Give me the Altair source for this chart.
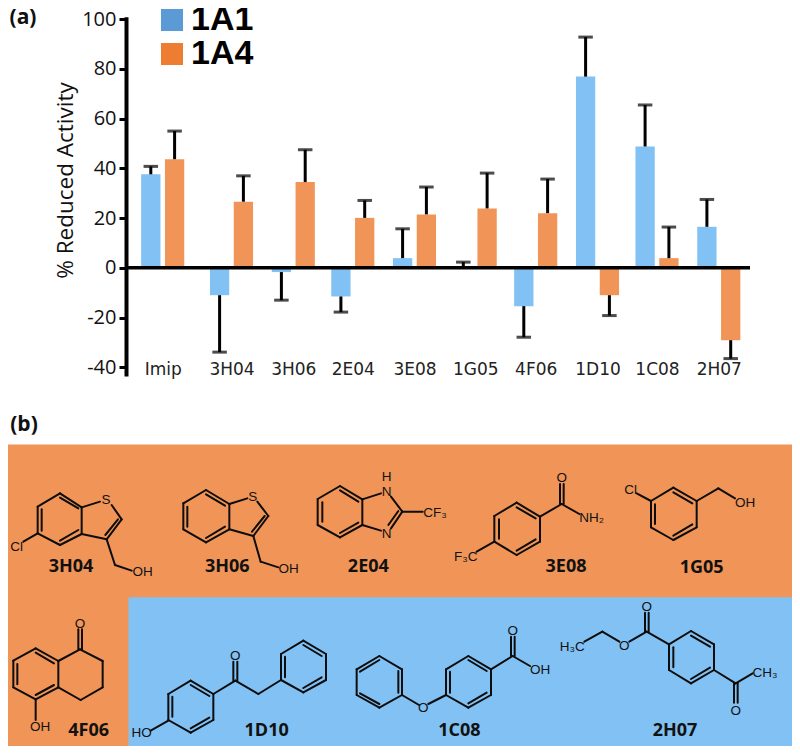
import altair as alt
import pandas as pd

# ---- panel (a) values -------------------------------------------------------
COMPOUNDS = ["Imip", "3H04", "3H06", "2E04", "3E08", "1G05", "4F06", "1D10", "1C08", "2H07"]
A1_MEAN = [37.6, -11.0, -1.7, -11.5, 3.9, 0.3, -15.4, 76.9, 48.8, 16.5]
A1_CAP = [40.8, -33.9, -13.0, -17.8, 15.7, 2.3, -27.9, 92.8, 65.5, 27.5]
A4_MEAN = [43.7, 26.6, 34.5, 20.1, 21.5, 23.9, 22.0, -11.0, 3.9, -29.1]
A4_CAP = [55.0, 37.0, 47.5, 27.1, 32.5, 38.1, 35.7, -19.2, 16.4, -36.5]
SERIES = ["1A1", "1A4"]

def ring(v):
    return [v[i] + v[(i + 1) % len(v)] for i in range(len(v))]

MOL_3H04 = ring([(180, 250), (245, 292), (245, 372), (180, 405), (113, 370), (113, 290)]) + [
    (125, 298, 125, 362), (180, 263, 235, 295), (180, 392, 235, 360),
    (245, 292, 300, 275), (335, 285, 365, 328), (365, 328, 320, 388), (354, 328, 316, 375),
    (320, 388, 245, 372), (320, 388, 345, 465), (345, 465, 395, 482), (113, 370, 70, 395)]
MOL_3H06 = ring([(618, 240), (688, 282), (688, 358), (618, 397), (550, 358), (550, 280)]) + [
    (562, 290, 562, 350), (618, 253, 675, 287), (618, 384, 675, 350),
    (688, 282, 742, 265), (772, 275, 805, 318), (805, 318, 760, 378), (794, 318, 756, 365),
    (760, 378, 688, 358), (760, 378, 782, 455), (782, 455, 835, 472)]
MOL_2E04 = ring([(120, 138), (187, 178), (187, 255), (120, 292), (53, 255), (53, 177)]) + [
    (67, 187, 67, 245), (120, 151, 175, 185), (120, 279, 175, 248),
    (187, 178, 243, 160), (273, 170, 307, 215), (307, 215, 273, 265), (295, 213, 265, 255),
    (187, 255, 243, 272), (307, 215, 368, 215)]
MOL_3E08 = ring([(650, 188), (720, 230), (720, 305), (650, 345), (583, 305), (583, 228)]) + [
    (597, 238, 597, 296), (650, 202, 707, 235), (650, 332, 707, 298),
    (720, 230, 785, 192), (780, 192, 780, 132), (791, 192, 791, 132),
    (785, 192, 838, 222), (583, 305, 530, 335)]
MOL_1G05 = ring([(250, 143), (320, 183), (320, 262), (250, 300), (183, 262), (183, 183)]) + [
    (195, 193, 195, 252), (250, 157, 307, 190), (250, 287, 307, 253),
    (183, 183, 140, 160), (320, 183, 385, 145), (385, 145, 435, 175)]
MOL_4F06 = ring([(107, 175), (175, 213), (175, 292), (107, 328), (40, 292), (40, 212)]) + [
    (52, 222, 52, 283), (107, 188, 162, 220), (107, 315, 162, 285),
    (175, 213, 240, 178), (240, 178, 308, 213), (308, 213, 308, 292), (308, 292, 242, 330),
    (242, 330, 175, 292), (235, 178, 235, 118), (246, 178, 246, 118), (107, 328, 107, 390)]
MOL_1D10 = ring([(572, 272), (640, 312), (640, 390), (572, 428), (505, 390), (505, 312)]) + ring(
    [(910, 152), (978, 192), (978, 270), (910, 307), (843, 270), (843, 192)]) + [
    (517, 320, 517, 380), (572, 285, 628, 318), (572, 415, 628, 383),
    (855, 200, 855, 262), (910, 165, 965, 198), (910, 294, 965, 262),
    (505, 392, 452, 422), (640, 312, 706, 272), (700, 272, 700, 215), (712, 272, 712, 215),
    (706, 272, 775, 312), (775, 312, 843, 270)]
MOL_1C08 = ring([(118, 198), (186, 238), (186, 315), (118, 353), (50, 315), (50, 238)]) + ring(
    [(385, 198), (453, 238), (453, 315), (385, 353), (318, 315), (318, 238)]) + [
    (60, 245, 118, 210), (175, 243, 175, 308), (60, 310, 118, 342),
    (330, 245, 330, 308), (385, 210, 440, 243), (385, 340, 440, 308),
    (186, 315, 237, 345), (265, 342, 318, 315), (453, 238, 518, 198),
    (513, 198, 513, 140), (524, 198, 524, 140), (518, 198, 570, 228)]
MOL_2H07 = ring([(1053, 123), (1122, 163), (1122, 240), (1053, 280), (987, 240), (987, 163)]) + [
    (1000, 172, 1000, 232), (1053, 137, 1110, 170), (1053, 267, 1110, 233),
    (987, 163, 920, 125), (915, 125, 915, 68), (926, 125, 926, 68), (920, 125, 868, 155),
    (838, 155, 787, 125), (787, 125, 733, 155), (1122, 240, 1187, 280), (1187, 280, 1238, 250),
    (1182, 280, 1182, 338), (1193, 280, 1193, 338)]

CROP_A = (0, 410)
CROP_B = (300, 440)
CROP_C = (0, 590)
CROP_D = (340, 590)
CROP_E = (590, 440)
MOLECULES = [(CROP_A, MOL_3H04), (CROP_A, MOL_3H06), (CROP_B, MOL_2E04), (CROP_B, MOL_3E08),
             (CROP_E, MOL_1G05), (CROP_C, MOL_4F06), (CROP_C, MOL_1D10), (CROP_D, MOL_1C08), (CROP_D, MOL_2H07)]

ATOMS = [
    (CROP_A, 318, 270, "S"), (CROP_A, 50, 410, "Cl"), (CROP_A, 428, 487, "OH"),
    (CROP_A, 758, 260, "S"), (CROP_A, 866, 477, "OH"),
    (CROP_B, 260, 155, "N"), (CROP_B, 260, 112, "H"), (CROP_B, 260, 281, "N"), (CROP_B, 405, 220, "CF₃"),
    (CROP_B, 785, 115, "O"), (CROP_B, 875, 235, "NH₂"), (CROP_B, 497, 350, "F₃C"),
    (CROP_E, 122, 150, "Cl"), (CROP_E, 465, 188, "OH"),
    (CROP_C, 240, 102, "O"), (CROP_C, 120, 410, "OH"),
    (CROP_C, 425, 430, "HO"), (CROP_C, 706, 198, "O"),
    (CROP_D, 250, 355, "O"), (CROP_D, 518, 124, "O"), (CROP_D, 600, 240, "OH"),
    (CROP_D, 920, 50, "O"), (CROP_D, 853, 168, "O"), (CROP_D, 697, 170, "H₃C"),
    (CROP_D, 1275, 250, "CH₃"), (CROP_D, 1187, 362, "O"),
]
NAMES = [
    (CROP_A, 213, 472, "3H04"), (CROP_A, 682, 472, "3H06"),
    (CROP_B, 205, 382, "2E04"), (CROP_B, 798, 382, "3E08"), (CROP_E, 335, 383, "1G05"),
    (CROP_C, 266, 423, "4F06"), (CROP_C, 800, 423, "1D10"),
    (CROP_D, 358, 423, "1C08"), (CROP_D, 1005, 423, "2H07"),
]
PANEL_TAGS = [(23, 18, "(a)"), (24, 425, "(b)")]
BACKGROUNDS = [(5, 795, 444.5, 749, "#F09557"), (128.5, 795, 597.3, 749, "#82C1F3")]

# ---- frames -------------------------------------------------------------------
W, H = 784, 738
BAR = "#82C1F3"
ORANGE = "#F09557"
LEGEND_COLORS = ["#5B9BD5", "#ED7D31"]
FONT = "Open Sans"

slots = list(range(len(COMPOUNDS)))
bars = pd.DataFrame({"slot": slots, "a1": A1_MEAN, "a1cap": A1_CAP, "a4": A4_MEAN, "a4cap": A4_CAP})

label_expr = "[" + ",".join(f"'{c}'" for c in COMPOUNDS) + "][datum.value]"
group_centres = [154.7, 223.5, 285.3, 344.8, 406.5, 467.2, 527.7, 589.5, 649.0, 710.8]
Y_SCALE = alt.Scale(domain=[-43.5, 101], range=[368, 8.7], nice=False, zero=False)
Y_AXIS = alt.Axis(values=list(range(-40, 101, 20)), labelExpr="toString(datum.value)", grid=False,
                  title="% Reduced Activity", orient="left", offset=-118,
                  domainColor="#000", domainWidth=4, tickColor="#000", tickWidth=3, tickSize=7,
                  labelFont=FONT, labelFontSize=20, labelColor="#111", labelPadding=3,
                  titleFont=FONT, titleFontSize=22.5, titleFontWeight="normal", titleColor="#111",
                  titleX=-49, titleY=172, titleAngle=-90)
x_a = alt.X("slot:Q", scale=alt.Scale(domain=slots, range=group_centres, padding=0),
            axis=alt.Axis(values=slots, labelExpr=label_expr, domain=False, ticks=False, grid=False,
                          title=None, orient="bottom", offset=-(H - 361), labelFont="DejaVu Sans",
                          labelFontSize=17, labelColor="#222", labelPadding=0, labelOverlap=False,
                          labelBaseline="middle", labelFlush=False))
y_a = alt.Y("v:Q", scale=Y_SCALE, axis=Y_AXIS)

OFFSET = 11.9
def series_layers(mean, cap, colour, dx):
    d = bars.rename(columns={mean: "v", cap: "c"})
    base = alt.Chart(d)
    return [
        base.mark_bar(size=19.3, xOffset=dx, color=colour).encode(x=x_a, y=y_a, y2=alt.datum(0)),
        base.mark_rule(xOffset=dx, color="#000", strokeWidth=3).encode(x=x_a, y=y_a, y2="c:Q"),
        base.mark_tick(xOffset=dx, color="#000", thickness=3, size=14.5, orient="horizontal").encode(
            x=x_a, y=alt.Y("c:Q", scale=Y_SCALE, axis=Y_AXIS)),
    ]

zero_line = alt.Chart(pd.DataFrame({"slot": [0], "v": [0]})).mark_rule(color="#000", strokeWidth=3.5).encode(
    y=y_a, x=alt.value(118), x2=alt.value(742))

legend_layer = alt.Chart(pd.DataFrame({"series": SERIES})).mark_square(size=0, opacity=1).encode(
    color=alt.Color("series:N", scale=alt.Scale(domain=SERIES, range=LEGEND_COLORS),
                    legend=alt.Legend(orient="none", legendX=147, legendY=-5, title=None, symbolType="square",
                                      symbolSize=484, symbolStrokeWidth=0, labelFont="Liberation Sans",
                                      labelFontSize=34, labelFontWeight="bold", labelColor="#000",
                                      labelOffset=2, rowPadding=0)))

panel_a = alt.layer(*series_layers("a1", "a1cap", BAR, -OFFSET), *series_layers("a4", "a4cap", ORANGE, OFFSET),
                    zero_line, legend_layer)

# ---- panel (b) --------------------------------------------------------------------
px = alt.Scale(domain=[0, 800], range=[-8, 792], nice=False, zero=False)
py = alt.Scale(domain=[0, 754], range=[-8, 746], nice=False, zero=False)
X = alt.X("x:Q", scale=px, axis=None)
Y = alt.Y("y:Q", scale=py, axis=None)

def to_ref(c, x, y):
    return c[0] + x / 3, c[1] + y / 3

seg_rows = []
for crop, segs in MOLECULES:
    for a, b, c, d in segs:
        x0, y0 = to_ref(crop, a, b)
        x1, y1 = to_ref(crop, c, d)
        seg_rows.append({"x": x0, "y": y0, "x2": x1, "y2": y1})
atom_rows = [dict(zip("xy", to_ref(c, a, b)), t=t) for c, a, b, t in ATOMS]
name_rows = [dict(zip("xy", to_ref(c, a, b)), t=t) for c, a, b, t in NAMES]
tag_rows = [{"x": a, "y": b, "t": t} for a, b, t in PANEL_TAGS]
bg_rows = [{"x": a, "x2": b, "y": c, "y2": d, "c": e} for a, b, c, d, e in BACKGROUNDS]

bg = alt.Chart(pd.DataFrame(bg_rows)).mark_rect().encode(
    x=X, x2="x2:Q", y=Y, y2="y2:Q",
    color=alt.Color("c:N", scale=None, legend=None))
bonds = alt.Chart(pd.DataFrame(seg_rows)).mark_rule(color="#0d0d0d", strokeWidth=2, strokeCap="round").encode(
    x=X, x2="x2:Q", y=Y, y2="y2:Q")
atoms = alt.Chart(pd.DataFrame(atom_rows)).mark_text(font="Liberation Sans", fontSize=13.5, color="#111").encode(
    x=X, y=Y, text="t:N")
names = alt.Chart(pd.DataFrame(name_rows)).mark_text(font=FONT, fontSize=18, fontWeight="bold", color="#111").encode(
    x=X, y=Y, text="t:N")
tags = alt.Chart(pd.DataFrame(tag_rows)).mark_text(font=FONT, fontSize=21, fontWeight="bold", color="#111").encode(
    x=X, y=Y, text="t:N")
panel_b = alt.layer(bg, bonds, atoms, names, tags)

chart = alt.layer(panel_b, panel_a).resolve_scale(x="independent", y="independent", color="independent").properties(
    width=W, height=H, padding=0, autosize=alt.AutoSizeParams(type="none")
).configure_view(stroke=None)

chart.save("out.html", embed_options={"renderer": "svg", "actions": False})
